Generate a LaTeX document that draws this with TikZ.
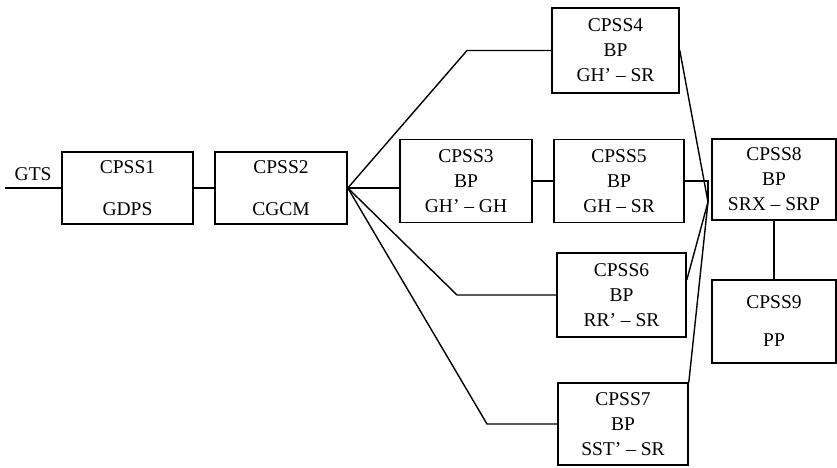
\documentclass[tikz,border=0pt]{standalone}
\usepackage{fontspec}
\setmainfont{Liberation Serif}
\begin{document}
\begin{tikzpicture}[x=1pt,y=-1pt,
    box/.style={draw, line width=1.6pt, align=center, inner sep=0pt,
      font=\fontsize{19.5}{25}\selectfont},
    link/.style={line width=1.4pt}]
    \useasboundingbox (0,0) rectangle (837,467);
    % blocks
    \node[box, minimum width=131, minimum height=72] (c1) at (127.5,188) {CPSS1\\[17pt]GDPS};
    \node[box, minimum width=132, minimum height=72] (c2) at (281,188) {CPSS2\\[17pt]CGCM};
    \node[box, minimum width=132, minimum height=83] (c3) at (466,181) {CPSS3\\BP\\GH' -- GH};
    \node[box, minimum width=127, minimum height=85] (c4) at (615.5,50.5) {CPSS4\\BP\\GH' -- SR};
    \node[box, minimum width=130, minimum height=83] (c5) at (619,181) {CPSS5\\BP\\GH -- SR};
    \node[box, minimum width=129, minimum height=84] (c6) at (621.5,295) {CPSS6\\BP\\RR' -- SR};
    \node[box, minimum width=130, minimum height=82] (c7) at (623,424) {CPSS7\\BP\\SST' -- SR};
    \node[box, minimum width=124, minimum height=81] (c8) at (774,179.5) {CPSS8\\BP\\SRX -- SRP};
    \node[box, minimum width=124, minimum height=83] (c9) at (774,321.5) {CPSS9\\[13pt]PP};
    \coordinate (gts) at (5,188);
    \coordinate (m) at (708,202);
    % links
    \draw[link] (gts) -- node[above=3pt, font=\fontsize{19.5}{20}\selectfont] {GTS} (c1.west);
    \draw[link] (c1.east) -- (c2.west);
    \draw[link] (c2.east) -- (c4.west -| 467,0) -- (c4.west);
    \draw[link] (c2.east) -- (c3.west |- c2.east);
    \draw[link] (c2.east) -- (c6.west -| 457,0) -- (c6.west);
    \draw[link] (c2.east) -- (c7.west -| 487,0) -- (c7.west);
    \draw[link] (c3.east) -- (c5.west);
    \draw[link] (c4.east) -- (m);
    \draw[link] (c5.east) -- (m |- c5.east) -- (m);
    \draw[link] (c6.13) -- (m);
    \draw[link] (c7.north east) -- (m);
    \draw[link] (c8.south -| c9.north) -- (c9.north);
\end{tikzpicture}
\end{document}
